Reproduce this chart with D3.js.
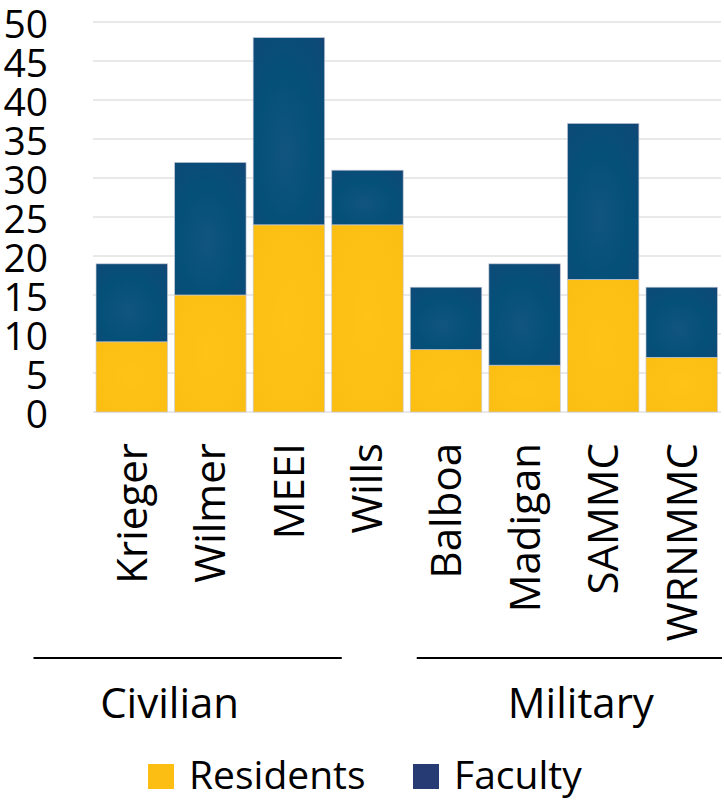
<!DOCTYPE html>
<html>
<head>
<meta charset="utf-8">
<script src="https://cdn.jsdelivr.net/npm/d3@7"></script>
<style>
  html, body { margin: 0; padding: 0; background: #fff; }
  svg { display: block; font-family: "Open Sans", sans-serif; }
</style>
</head>
<body>
<svg id="chart" width="724" height="800"></svg>
<script>
const categories = ["Krieger", "Wilmer", "MEEI", "Wills", "Balboa", "Madigan", "SAMMC", "WRNMMC"];
const groups = ["Civilian", "Civilian", "Civilian", "Civilian", "Military", "Military", "Military", "Military"];
const residents = [9, 15, 24, 24, 8, 6, 17, 7];
const faculty = [10, 17, 24, 7, 8, 13, 20, 9];
const yTicks = [0, 5, 10, 15, 20, 25, 30, 35, 40, 45, 50];
const seriesNames = ["Residents", "Faculty"];

const svg = d3.select("#chart");

const x = d3.scaleBand().domain(categories).range([92.5, 721]).paddingInner(0.09).paddingOuter(0.045);
const y = d3.scaleLinear().domain([0, 50]).range([412, 22]);

// defs: gradients
const defs = svg.append("defs");
const fg = defs.append("radialGradient").attr("id", "facGrad")
  .attr("cx", "0.45").attr("cy", "0.6").attr("r", "0.9");
fg.append("stop").attr("offset", "0%").attr("stop-color", "#11557f");
fg.append("stop").attr("offset", "45%").attr("stop-color", "#045079");
fg.append("stop").attr("offset", "80%").attr("stop-color", "#0d4a77");
fg.append("stop").attr("offset", "100%").attr("stop-color", "#1d3d71");

const rg = defs.append("radialGradient").attr("id", "resGrad")
  .attr("cx", "0.5").attr("cy", "0.5").attr("r", "0.75");
rg.append("stop").attr("offset", "0%").attr("stop-color", "#fec317");
rg.append("stop").attr("offset", "100%").attr("stop-color", "#fbbd12");

// gridlines
svg.append("g").selectAll("line").data(yTicks).join("line")
  .attr("x1", 93).attr("x2", 721)
  .attr("y1", d => y(d)).attr("y2", d => y(d))
  .attr("stroke", "#e2e2e2").attr("stroke-width", 1.5);

// y labels
svg.append("g").selectAll("text").data(yTicks).join("text")
  .attr("x", 48).attr("y", d => y(d))
  .attr("text-anchor", "end").attr("dominant-baseline", "central")
  .attr("font-size", 39).attr("fill", "#000")
  .text(d => d);

// stacked data
const data = categories.map((c, i) => ({ cat: c, Residents: residents[i], Faculty: faculty[i] }));
const stack = d3.stack().keys(seriesNames)(data);
const fills = { Residents: "url(#resGrad)", Faculty: "url(#facGrad)" };

svg.append("g").selectAll("g").data(stack).join("g")
  .attr("fill", s => fills[s.key])
  .selectAll("rect").data(s => s).join("rect")
  .attr("x", d => x(d.data.cat))
  .attr("width", x.bandwidth())
  .attr("y", d => y(d[1]))
  .attr("height", d => y(d[0]) - y(d[1]))
  .attr("stroke", "#c9cbd8").attr("stroke-width", 0.8).attr("stroke-opacity", 0.8);

// category labels (rotated)
svg.append("g").selectAll("text").data(categories).join("text")
  .attr("transform", d => `translate(${x(d) + x.bandwidth() / 2 + 15},443) rotate(-90)`)
  .attr("text-anchor", "end")
  .attr("font-size", 42).attr("fill", "#000")
  .text(d => d);

// group lines and labels
const groupNames = Array.from(new Set(groups));
const groupInfo = groupNames.map(g => {
  const cats = categories.filter((c, i) => groups[i] === g);
  const x0 = x(cats[0]) - x.step() * x.paddingInner() / 2;
  const x1 = x(cats[cats.length - 1]) + x.bandwidth() + x.step() * x.paddingInner() / 2;
  return { name: g, x0, x1 };
});
const lineOffsets = { Civilian: [-59, -65], Military: [10, 1] };
const textCenterOffset = { Civilian: -80, Military: 17 };

svg.append("g").selectAll("line").data(groupInfo).join("line")
  .attr("x1", d => d.x0 + lineOffsets[d.name][0])
  .attr("x2", d => d.x1 + lineOffsets[d.name][1])
  .attr("y1", 658).attr("y2", 658)
  .attr("stroke", "#000").attr("stroke-width", 2);

svg.append("g").selectAll("text").data(groupInfo).join("text")
  .attr("x", d => (d.x0 + d.x1) / 2 + textCenterOffset[d.name])
  .attr("y", 718)
  .attr("text-anchor", "middle")
  .attr("font-size", 42).attr("fill", "#000")
  .text(d => d.name);

// legend
const legendColors = { Residents: "#fdbe14", Faculty: "#263a73" };
const legendX = { Residents: 148, Faculty: 413 };
const lg = svg.append("g").selectAll("g").data(seriesNames).join("g")
  .attr("transform", d => `translate(${legendX[d]},764)`);
lg.append("rect").attr("width", 26).attr("height", 25).attr("fill", d => legendColors[d]);
lg.append("text").attr("x", 41).attr("y", 25)
  .attr("font-size", 39).attr("fill", "#000")
  .text(d => d);
</script>
</body>
</html>
